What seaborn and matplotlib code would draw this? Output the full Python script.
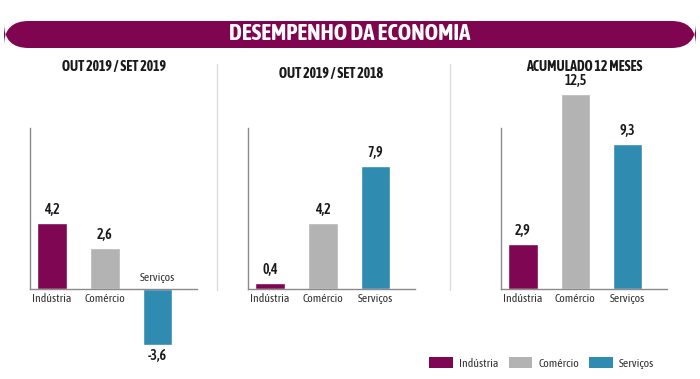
import numpy as np
import pandas as pd
import matplotlib
matplotlib.use("Agg")
import matplotlib.pyplot as plt
import seaborn as sns
from matplotlib.patches import FancyBboxPatch, Patch
from matplotlib.lines import Line2D

categorias = ['Indústria', 'Comércio', 'Serviços']
out19_set19 = [4.2, 2.6, -3.6]
out19_set18 = [0.4, 4.2, 7.9]
acumulado_12m = [2.9, 12.5, 9.3]
titulos = ['OUT 2019 / SET 2019', 'OUT 2019 / SET 2018', 'ACUMULADO 12 MESES']
titulo_geral = 'DESEMPENHO DA ECONOMIA'

cores = ['#7e0652', '#b3b3b3', '#2f8bb0']
roxo = '#7f0551'

W, H = 700, 379

sns.set_theme(style='white')
plt.rcParams['font.family'] = ['Asap Condensed', 'Roboto Condensed', 'Liberation Sans', 'DejaVu Sans']

fig = plt.figure(figsize=(W / 100, H / 100), dpi=100)
fig.patch.set_facecolor('white')


def px(x, y):
    # pixel (top-left origin) -> figure fraction
    return x / W, 1 - y / H


# faixa do titulo
x0, y0 = px(4, 48)
x1, y1 = px(696, 21)
banner = FancyBboxPatch((x0, y0), x1 - x0, y1 - y0,
                        boxstyle='round,pad=0,rounding_size=0.035',
                        transform=fig.transFigure, facecolor=roxo, edgecolor='none',
                        mutation_aspect=(W / H))
fig.add_artist(banner)
fig.text(0.5, (y0 + y1) / 2, titulo_geral, color='white', fontsize=16.5, fontweight='bold',
         ha='center', va='center')

# linhas separadoras
for xs in [217, 450]:
    a, b = px(xs, 64)
    _, c = px(xs, 290)
    fig.add_artist(Line2D([a, a], [c, b], transform=fig.transFigure, color='#dcdcdc', lw=1))

paineis = [(30, 197, 67), (248, 415, 74), (501, 667, 67)]
series = [out19_set19, out19_set18, acumulado_12m]

base_px = 289
escala = 15.6
ymin, ymax = -5, 14
bottom = (H - (base_px - ymin * escala)) / H
height = (ymax - ymin) * escala / H

for (xl, xr, ty), valores, titulo in zip(paineis, series, titulos):
    ax = fig.add_axes([xl / W, bottom, (xr - xl) / W, height])
    df = pd.DataFrame({'cat': categorias, 'val': valores})
    sns.barplot(data=df, x='cat', y='val', hue='cat', palette=cores, width=0.56,
                order=categorias, hue_order=categorias, legend=False, ax=ax,
                saturation=1)
    ax.set_xlim(-0.42, 2.75)
    ax.set_ylim(ymin, ymax)
    ax.set_facecolor('none')
    for s in ['top', 'right']:
        ax.spines[s].set_visible(False)
    ax.spines['bottom'].set_position(('data', 0))
    ax.spines['left'].set_bounds(0, 10.3)
    for s in ['left', 'bottom']:
        ax.spines[s].set_color('#8a8a8a')
        ax.spines[s].set_linewidth(1)
    ax.set_xticks([])
    ax.set_yticks([])
    ax.set_xlabel('')
    ax.set_ylabel('')

    for i, v in enumerate(valores):
        rotulo = f'{v:.1f}'.replace('.', ',')
        if v >= 0:
            ax.annotate(rotulo, (i, v), xytext=(0, 4.5), textcoords='offset points',
                        ha='center', va='bottom', fontsize=10, fontweight='semibold', color='#1a1a1a')
            ax.annotate(categorias[i], (i, 0), xytext=(0, -3), textcoords='offset points',
                        ha='center', va='top', fontsize=8.5, color='#333333')
        else:
            ax.annotate(rotulo, (i, v), xytext=(0, -3), textcoords='offset points',
                        ha='center', va='top', fontsize=10, fontweight='semibold', color='#1a1a1a')
            ax.annotate(categorias[i], (i, 0), xytext=(0, 4), textcoords='offset points',
                        ha='center', va='bottom', fontsize=8.5, color='#333333')

    tx, tyf = px((xl + xr) / 2, ty)
    fig.text(tx, tyf, titulo, ha='center', va='center', fontsize=10, fontweight='bold',
             color='#1a1a1a')

# legenda
handles = [Patch(facecolor=c, edgecolor='none') for c in cores]
lx, ly = px(429, 363)
fig.legend(handles, categorias, loc='center left', bbox_to_anchor=(lx, ly), ncol=3,
           frameon=False, fontsize=8.5, handlelength=2.0, handleheight=1.1,
           handletextpad=0.5, columnspacing=0.9, borderpad=0, borderaxespad=0,
           labelcolor='#333333')

plt.savefig('out.png', dpi=100)
